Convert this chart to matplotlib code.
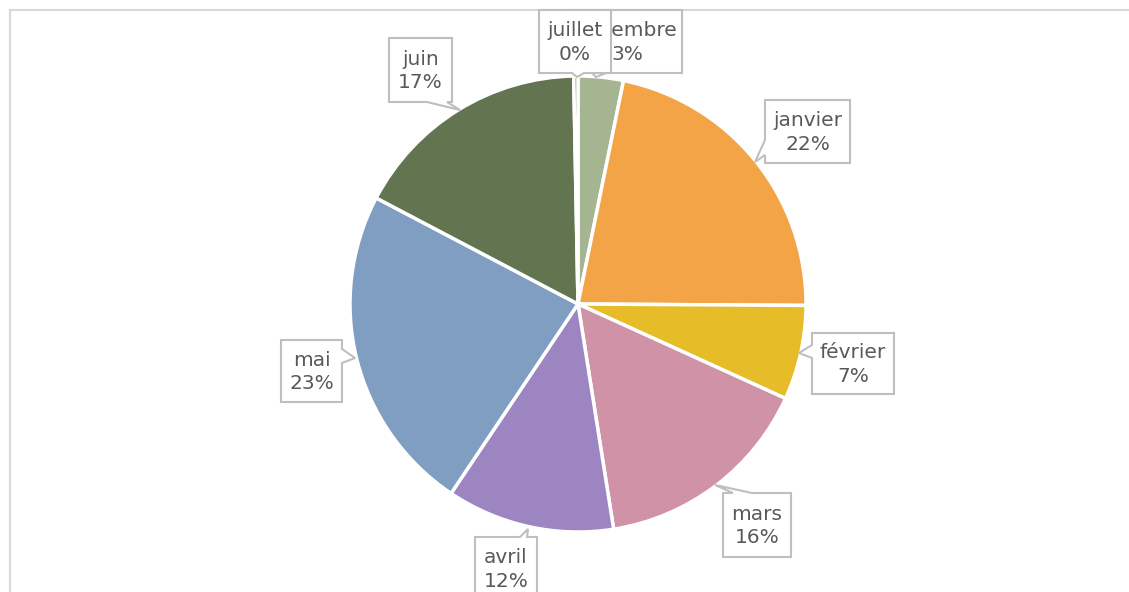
"""
Pie chart of monthly shares with Excel-style callout labels. Saves out.png.
"""

import matplotlib.pyplot as plt
from matplotlib.patches import Polygon
import numpy as np

months = ['décembre', 'janvier', 'février', 'mars', 'avril', 'mai', 'juin', 'juillet']
values = [3.2, 21.9, 6.7, 15.7, 11.9, 23.3, 17.0, 0.3]
colors = ['#A5B592', '#F3A447', '#E7BC29', '#D092A7', '#9C85C0', '#809EC2', '#637550', '#8F9A7F']

W, H = 1129, 592
cx, cy, R = 578, 304, 228   # pie centre / radius in pixels (y down)

# callout layout: box (x0, y0, x1, y1), pointer side, base a, base b, tip (pixels, y down)
callouts = {
    'décembre': ((572, 10, 682, 73), 'bottom', 592, 606, (596, 77)),
    'janvier': ((765, 100, 850, 163), 'left', 140, 155, (755, 162)),
    'février': ((812, 333, 894, 394), 'left', 345, 358, (799, 353)),
    'mars': ((723, 493, 791, 557), 'top', 733, 752, (715, 485)),
    'avril': ((475, 537, 537, 600), 'top', 520, 527, (528, 529)),
    'mai': ((281, 340, 342, 402), 'right', 349, 363, (355, 358)),
    'juin': ((389, 38, 452, 102), 'bottom', 427, 447, (460, 110)),
    'juillet': ((539, 10, 611, 73), 'bottom', 572, 584, (577, 77)),
}


def fy(y):
    return H - y


def bubble(ax, box, side, a, b, tip, z):
    x0, y0, x1, y1 = box
    if side == 'left':
        pts = [(x0, y0), (x1, y0), (x1, y1), (x0, y1), (x0, b), tip, (x0, a)]
    elif side == 'right':
        pts = [(x0, y0), (x1, y0), (x1, a), tip, (x1, b), (x1, y1), (x0, y1)]
    elif side == 'top':
        pts = [(x0, y0), (a, y0), tip, (b, y0), (x1, y0), (x1, y1), (x0, y1)]
    else:
        pts = [(x0, y0), (x1, y0), (x1, y1), (b, y1), tip, (a, y1), (x0, y1)]
    pts = [(x, fy(y)) for x, y in pts]
    ax.add_patch(Polygon(pts, closed=True, facecolor='white', edgecolor='#BFBFBF',
                         linewidth=1.5, zorder=z))


plt.rcParams['font.family'] = ['DejaVu Sans']
fig = plt.figure(figsize=(W / 100, H / 100), dpi=100)
ax = fig.add_axes([0, 0, 1, 1])

ax.pie(values, colors=colors, startangle=90, counterclock=False,
       center=(cx, fy(cy)), radius=R,
       wedgeprops=dict(edgecolor='white', linewidth=2.5), frame=True)
ax.set_xlim(0, W)
ax.set_ylim(0, H)
ax.set_aspect('equal')
ax.axis('off')

# chart frame (only top and left edges visible)
ax.plot([10, W], [fy(10), fy(10)], color='#D9D9D9', lw=1.5)
ax.plot([10, 10], [fy(10), 0], color='#D9D9D9', lw=1.5)

total = sum(values)
for i, (m, v) in enumerate(zip(months, values)):
    z = 5 + 2 * i   # later labels sit on top of earlier ones
    box, side, a, b, tip = callouts[m]
    bubble(ax, box, side, a, b, tip, z)
    x0, y0, x1, y1 = box
    ax.text((x0 + x1) / 2, fy((y0 + y1) / 2 + 1), '%s\n%d%%' % (m, round(v / total * 100)),
            ha='center', va='center', fontsize=14.5, color='#595959',
            linespacing=1.3, zorder=z + 1)

fig.savefig('out.png', dpi=100)
